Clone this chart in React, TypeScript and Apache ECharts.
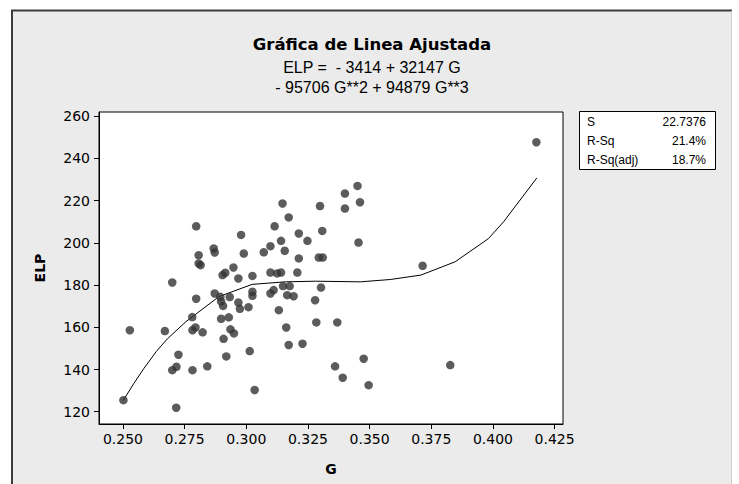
import React, { useEffect, useRef } from "react";
import * as echarts from "echarts";

const G_VALUES = [
  0.2797, 0.2979, 0.2868, 0.2872, 0.2807, 0.299, 0.3071, 0.3098, 0.2807, 0.2815,
  0.2948, 0.2904, 0.2915, 0.2968, 0.3025, 0.27, 0.2797, 0.2872, 0.2895, 0.2898,
  0.2906, 0.2933, 0.3025, 0.3025, 0.2968, 0.2974, 0.3009, 0.3098, 0.3111, 0.2781,
  0.2898, 0.2929, 0.2782, 0.2794, 0.2823, 0.2528, 0.267, 0.2936, 0.295, 0.2908,
  0.3014, 0.2725, 0.2919, 0.27, 0.2717, 0.2782, 0.2842, 0.3034, 0.2502, 0.2716,
  0.3147, 0.3451, 0.34, 0.3461, 0.34, 0.3299, 0.3172, 0.3115, 0.3308, 0.3213,
  0.3141, 0.3248, 0.3455, 0.3156, 0.3213, 0.3294, 0.331, 0.3098, 0.3125, 0.3141,
  0.3207, 0.3149, 0.3176, 0.3303, 0.3166, 0.3192, 0.3279, 0.3132, 0.3284, 0.3369,
  0.3162, 0.3172, 0.3228, 0.3476, 0.336, 0.3391, 0.3496, 0.4176, 0.3715, 0.3827,
];
const ELP_VALUES = [
  207.8, 203.7, 197.3, 195.4, 194.1, 194.9, 195.5, 198.4, 190.2, 189.4,
  188.3, 184.7, 185.8, 183.1, 184.3, 181.2, 173.5, 176.0, 174.4, 172.2,
  170.1, 174.3, 176.8, 174.9, 171.7, 168.7, 169.5, 176.0, 177.6, 164.8,
  164.0, 164.7, 158.6, 159.9, 157.6, 158.6, 158.2, 159.0, 157.1, 154.5,
  148.7, 147.0, 146.2, 139.7, 141.3, 139.7, 141.5, 130.3, 125.5, 121.9,
  218.6, 226.9, 223.3, 219.2, 216.2, 217.4, 212.0, 207.8, 205.6, 204.4,
  200.9, 200.9, 200.1, 196.2, 192.6, 193.0, 193.0, 185.9, 185.5, 185.9,
  185.9, 179.5, 179.5, 178.8, 175.2, 174.7, 172.8, 168.1, 162.3, 162.3,
  159.9, 151.6, 152.2, 145.1, 141.5, 136.1, 132.6, 247.6, 189.1, 142.1,
];

const FIT_G = [
  0.2502, 0.2545, 0.2585, 0.2635, 0.268, 0.2755, 0.2781, 0.2889, 0.3024, 0.3159,
  0.328, 0.3462, 0.3584, 0.3708, 0.3847, 0.3982, 0.4043, 0.4178,
];
const FIT_ELP = [
  125.5, 133.5, 140.5, 148.5, 154.5, 162.6, 164.9, 174.5, 180.3, 181.5,
  181.8, 181.5, 182.6, 184.7, 191.0, 202.0, 209.9, 230.7,
];

const X_TICKS = [0.25, 0.275, 0.3, 0.325, 0.35, 0.375, 0.4, 0.425];
const Y_TICKS = [120, 140, 160, 180, 200, 220, 240, 260];

const TITLE = "Gráfica de Linea Ajustada";
const SUBTITLE_1 = "ELP =  - 3414 + 32147 G";
const SUBTITLE_2 = "- 95706 G**2 + 94879 G**3";
const STAT_LABELS = ["S", "R-Sq", "R-Sq(adj)"];
const STAT_VALUES = ["22.7376", "21.4%", "18.7%"];

export default function App() {
  const ref = useRef<HTMLDivElement>(null);

  useEffect(() => {
    if (!ref.current) return;
    const chart = echarts.init(ref.current, null, { renderer: "svg" });
    const points = G_VALUES.map((g, i) => [g, ELP_VALUES[i]]);
    const fit = FIT_G.map((g, i) => [g, FIT_ELP[i]]);
    const rowY = [122, 141, 160];

    const statTexts: any[] = [];
    STAT_LABELS.forEach((lab, i) => {
      statTexts.push({
        type: "text",
        x: 587,
        y: rowY[i],
        z: 10,
        style: {
          text: lab,
          fontFamily: "Liberation Sans",
          fontSize: 12,
          fill: "#000",
          textAlign: "left",
          textVerticalAlign: "middle",
        },
      });
      statTexts.push({
        type: "text",
        x: 706,
        y: rowY[i],
        z: 10,
        style: {
          text: STAT_VALUES[i],
          fontFamily: "Liberation Sans",
          fontSize: 12,
          fill: "#000",
          textAlign: "right",
          textVerticalAlign: "middle",
        },
      });
    });

    chart.setOption({
      animation: false,
      backgroundColor: "#ffffff",
      graphic: [
        {
          type: "rect",
          z: -10,
          shape: { x: 12, y: 10, width: 720, height: 474 },
          style: { fill: "#ebebeb" },
        },
        {
          type: "line",
          z: -5,
          shape: { x1: 11, y1: 10.5, x2: 732, y2: 10.5 },
          style: { stroke: "#3c3c3c", lineWidth: 2 },
        },
        {
          type: "line",
          z: -5,
          shape: { x1: 12, y1: 10, x2: 12, y2: 484 },
          style: { stroke: "#3c3c3c", lineWidth: 2 },
        },
        {
          type: "line",
          z: -5,
          shape: { x1: 731.5, y1: 11, x2: 731.5, y2: 484 },
          style: { stroke: "#d0d0d0", lineWidth: 1 },
        },
        {
          type: "text",
          x: 372,
          y: 44,
          style: {
            text: TITLE,
            fontFamily: "DejaVu Sans",
            fontWeight: "bold",
            fontSize: 16.5,
            fill: "#000",
            textAlign: "center",
            textVerticalAlign: "middle",
          },
        },
        {
          type: "text",
          x: 372,
          y: 67.5,
          style: {
            text: SUBTITLE_1,
            fontFamily: "Liberation Sans",
            fontSize: 16,
            fill: "#000",
            textAlign: "center",
            textVerticalAlign: "middle",
          },
        },
        {
          type: "text",
          x: 372,
          y: 87,
          style: {
            text: SUBTITLE_2,
            fontFamily: "Liberation Sans",
            fontSize: 16,
            fill: "#000",
            textAlign: "center",
            textVerticalAlign: "middle",
          },
        },
        {
          type: "rect",
          z: 5,
          shape: { x: 579.5, y: 111.5, width: 136, height: 58 },
          style: { fill: "#ffffff", stroke: "#000", lineWidth: 1 },
        },
        ...statTexts,
      ],
      grid: {
        left: 99,
        right: 176,
        top: 112,
        bottom: 60,
        show: true,
        backgroundColor: "#ffffff",
        borderColor: "#000",
        borderWidth: 1,
      },
      xAxis: {
        type: "value",
        min: 0.2403,
        max: 0.4284,
        name: "G",
        nameLocation: "middle",
        nameGap: 38,
        nameTextStyle: {
          fontFamily: "DejaVu Sans",
          fontWeight: "bold",
          fontSize: 14,
          color: "#000",
        },
        axisLine: { show: true, onZero: false, lineStyle: { color: "#000", width: 1 } },
        axisTick: {
          show: true,
          length: 5,
          customValues: X_TICKS,
          lineStyle: { color: "#000" },
        },
        axisLabel: {
          customValues: X_TICKS,
          formatter: (v: number) => v.toFixed(3),
          fontFamily: "DejaVu Sans",
          fontSize: 14,
          color: "#000",
          margin: 8,
        },
        splitLine: { show: false },
      },
      yAxis: {
        type: "value",
        min: 114.2,
        max: 261.9,
        name: "ELP",
        nameLocation: "middle",
        nameGap: 52,
        nameTextStyle: {
          fontFamily: "DejaVu Sans",
          fontWeight: "bold",
          fontSize: 14,
          color: "#000",
        },
        axisLine: { show: true, onZero: false, lineStyle: { color: "#000", width: 1 } },
        axisTick: {
          show: true,
          length: 5,
          customValues: Y_TICKS,
          lineStyle: { color: "#000" },
        },
        axisLabel: {
          customValues: Y_TICKS,
          fontFamily: "DejaVu Sans",
          fontSize: 14,
          color: "#000",
          margin: 9,
        },
        splitLine: { show: false },
      },
      series: [
        {
          type: "line",
          data: fit,
          showSymbol: false,
          smooth: false,
          lineStyle: { color: "#000", width: 1 },
          z: 3,
        },
        {
          type: "scatter",
          data: points,
          symbol: "circle",
          symbolSize: 8.5,
          itemStyle: { color: "#333333" },
          z: 4,
        },
      ],
    });
    return () => chart.dispose();
  }, []);

  return (
    <div
      ref={ref}
      style={{ position: "absolute", left: 0, top: 0, width: 739, height: 484 }}
    />
  );
}
